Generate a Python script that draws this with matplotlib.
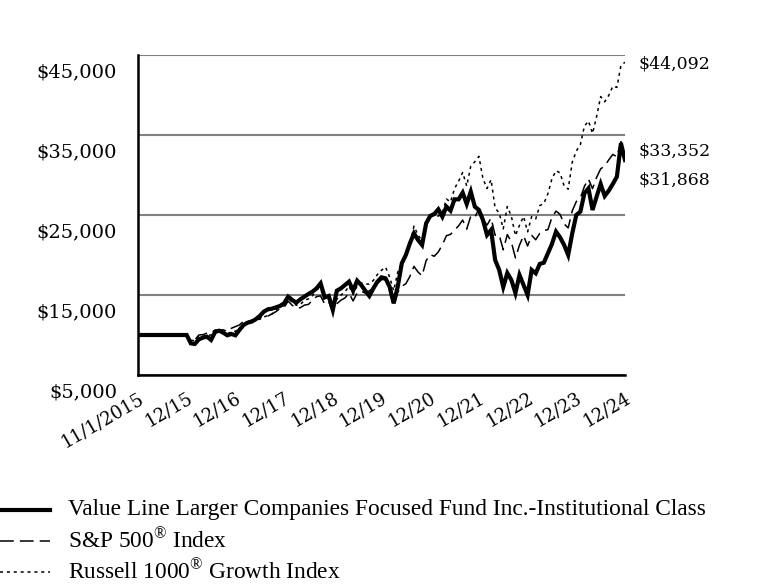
import matplotlib
matplotlib.use("Agg")
import matplotlib.pyplot as plt
from matplotlib.lines import Line2D
from matplotlib.transforms import ScaledTranslation

# ---------------- data ----------------
x_tick_labels = ["11/1/2015", "12/15", "12/16", "12/17", "12/18", "12/19",
                 "12/20", "12/21", "12/22", "12/23", "12/24"]
start_value = 10000  # value at 11/1/2015

# month-end values, Dec 2015 .. Dec 2024
fund_values = [
    10000,
    8960, 8880, 9460, 9670, 9790, 9380, 10380, 10540, 10290, 9960, 10130, 9960,
    10630, 11250, 11540, 11670, 11960, 12380, 12920, 13210, 13290, 13460, 13630, 13960,
    14790, 14380, 14040, 14460, 14790, 15130, 15420, 15830, 16460, 14710, 14880, 13130,
    15540, 15830, 16250, 16670, 15540, 16790, 16250, 15540, 14880, 15830, 16670, 17210,
    17080, 16040, 13960, 16040, 18960, 20000, 21460, 22710, 21880, 21250, 23960, 24880,
    25130, 25710, 24790, 26040, 25540, 26960, 26960, 27790, 26380, 27920, 26040, 25630,
    24380, 22500, 23130, 19380, 18130, 16000, 17750, 16880, 15250, 17500, 16250, 15000,
    18130, 17710, 18880, 19040, 20210, 21380, 22920, 22210, 21250, 20000, 22710, 25000,
    25420, 27710, 28330, 25630, 27290, 28880, 27380, 28040, 28880, 29790, 33960, 31868,
]
sp500_values = [
    9872,
    9382, 9369, 10005, 10044, 10224, 10250, 10628, 10643, 10645, 10451, 10838, 11053,
    11262, 11710, 11723, 11843, 12010, 12085, 12333, 12371, 12626, 12921, 13317, 13465,
    14236, 13711, 13363, 13414, 13737, 13822, 14336, 14803, 14887, 13870, 14153, 12875,
    13907, 14353, 14632, 15225, 14257, 15262, 15481, 15236, 15521, 15857, 16433, 16929,
    16922, 15529, 13611, 15356, 16087, 16407, 17333, 18579, 17873, 17398, 19303, 20044,
    19842, 20389, 21282, 22418, 22575, 23102, 23651, 24370, 23237, 24865, 24692, 25799,
    24464, 23732, 24613, 22467, 22508, 20650, 22554, 21634, 19641, 21232, 22418, 21128,
    22455, 21907, 22711, 23066, 23166, 24697, 25490, 25084, 23888, 23386, 25521, 26681,
    27130, 28578, 29498, 28293, 29696, 30762, 31136, 31891, 32572, 32276, 34171, 33352,
]
r1000g_values = [
    9900,
    9346, 9290, 9912, 9823, 10019, 9979, 10418, 10366, 10408, 10158, 10381, 10475,
    10831, 11286, 11421, 11684, 11988, 11952, 12263, 12422, 12621, 13138, 13546, 13654,
    14623, 14097, 13716, 13799, 14351, 14509, 14930, 15691, 15785, 14364, 14522, 13273,
    14468, 14989, 15408, 16101, 15087, 16128, 16499, 16367, 16367, 16825, 17565, 18092,
    18490, 17233, 15544, 17845, 19040, 19878, 21409, 23614, 22504, 21739, 23956, 25034,
    24859, 24859, 25282, 27001, 26623, 28300, 29234, 30316, 28618, 31108, 31668, 32333,
    29552, 28311, 29415, 25856, 25261, 23265, 26057, 24832, 22423, 23724, 24815, 22904,
    24805, 24507, 26174, 26436, 27652, 29532, 30536, 30261, 28627, 28226, 31600, 33000,
    33800, 36100, 36750, 35200, 37300, 39800, 39150, 39950, 41100, 40950, 43700, 44092,
]
series_names = [
    "Value Line Larger Companies Focused Fund Inc.-Institutional Class",
    r"S&P 500$^{\circledR}$ Index",
    r"Russell 1000$^{\circledR}$ Growth Index",
]
y_ticks = [5000, 15000, 25000, 35000, 45000]

# ---------------- figure ----------------
plt.rcParams["mathtext.fontset"] = "custom"
plt.rcParams["mathtext.rm"] = "Liberation Serif"
W, H = 768, 588
fig = plt.figure(figsize=(W / 100, H / 100), dpi=100)
ax = fig.add_axes([138 / W, 213 / H, 487 / W, 320 / H])

# x position: 11/1/2015 -> 0, 12/15 -> 1, then monthly steps
n = len(fund_values)
xs = [0] + [1 + i / 12 for i in range(n)]

styles = [
    dict(color="black", lw=3.0, ls="-", solid_joinstyle="miter"),
    dict(color="black", lw=1.1, ls=(0, (9, 4))),
    dict(color="black", lw=1.1, ls=(0, (2, 2.5))),
]
series = [fund_values, sp500_values, r1000g_values]
for k in [2, 1, 0]:
    ax.plot(xs, [start_value] + series[k], zorder=3 + (2 - k), **styles[k])

ax.set_xlim(0, 10)
ax.set_ylim(5000, 45000)
ax.set_yticks(y_ticks)
ax.set_yticklabels([f"${v:,.0f}" for v in y_ticks])
ax.set_xticks(range(len(x_tick_labels)))
ax.set_xticklabels(x_tick_labels)

ax.yaxis.grid(True, color="#808080", lw=1.5)
ax.set_axisbelow(True)
for s in ["top", "right"]:
    ax.spines[s].set_visible(False)
for s in ["left", "bottom"]:
    ax.spines[s].set_linewidth(1.8)
    ax.spines[s].set_color("black")
ax.spines["bottom"].set_zorder(10)

ax.tick_params(axis="both", length=0)
ax.tick_params(axis="y", pad=15)
for lab in ax.get_yticklabels():
    lab.set_fontfamily("DejaVu Serif")
    lab.set_fontsize(14)
    lab.set_transform(lab.get_transform() + ScaledTranslation(0, -0.15, fig.dpi_scale_trans))
ax.tick_params(axis="x", pad=10)
for lab in ax.get_xticklabels():
    lab.set_fontfamily("DejaVu Serif")
    lab.set_fontsize(13)
    lab.set_rotation(30)
    lab.set_ha("right")
    lab.set_va("top")
    lab.set_rotation_mode("anchor")

# end-value labels
end_labels = [f"${r1000g_values[-1]:,.0f}", f"${sp500_values[-1]:,.0f}", f"${fund_values[-1]:,.0f}"]
end_y = [64, 151, 180]
for t, yy in zip(end_labels, end_y):
    fig.text(639 / W, 1 - yy / H, t, fontsize=12.5, family="DejaVu Serif", va="center", ha="left")

# legend (manual)
leg_y = [510, 541, 572]
for k in range(3):
    yy = 1 - leg_y[k] / H
    fig.add_artist(Line2D([0, 50 / W], [yy, yy], transform=fig.transFigure, **styles[k]))
    fig.text(68 / W, yy, series_names[k], fontsize=16.8, family="Liberation Serif",
             va="center", ha="left")

fig.savefig("out.png", dpi=100)
